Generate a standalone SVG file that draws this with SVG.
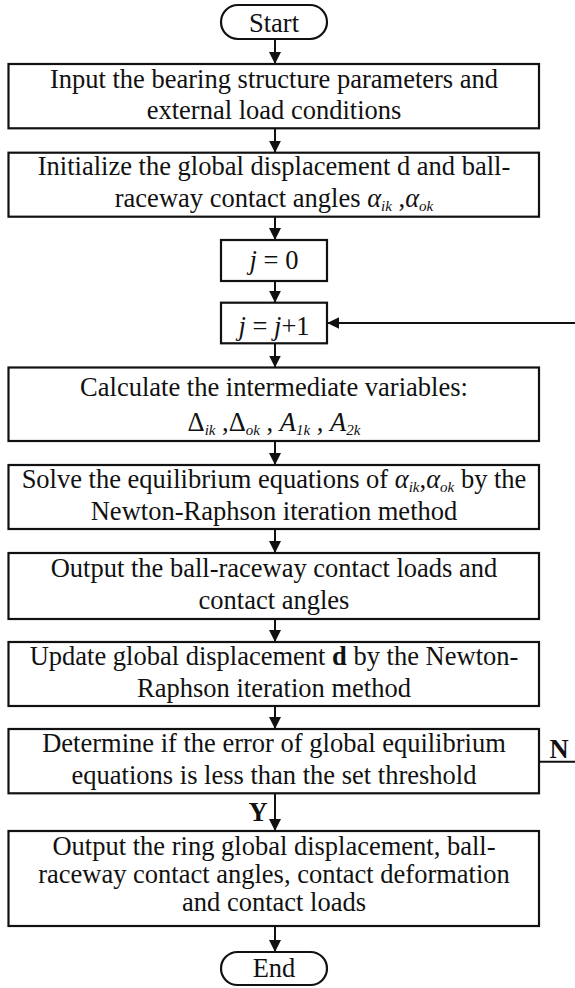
<svg xmlns="http://www.w3.org/2000/svg" width="575" height="988" viewBox="0 0 575 988">
<style>
.box{fill:#fff;stroke:#111;stroke-width:2.2}
.t{font-family:"Liberation Serif","Times New Roman",serif;font-size:26.5px;fill:#111;text-anchor:middle}
.i{font-style:italic}
.s{font-size:15px;font-style:italic}
.b{font-weight:bold}
.c{fill:none;stroke:#111;stroke-width:2}
</style>
<defs>
<marker id="ah" viewBox="0 0 12 12" refX="12" refY="6" markerWidth="12" markerHeight="12" markerUnits="userSpaceOnUse" orient="auto">
<path d="M0,0 L12,6 L0,12 z" fill="#111"/>
</marker>
</defs>
<rect width="575" height="988" fill="#fff"/>
<g id="connectors">
<path class="c" d="M275,39 V64" marker-end="url(#ah)"/>
<path class="c" d="M275,128.3 V152.7" marker-end="url(#ah)"/>
<path class="c" d="M275,216.7 V240" marker-end="url(#ah)"/>
<path class="c" d="M275,281 V302.7" marker-end="url(#ah)"/>
<path class="c" d="M275,343.3 V367.5" marker-end="url(#ah)"/>
<path class="c" d="M275,441 V465" marker-end="url(#ah)"/>
<path class="c" d="M275,529 V553" marker-end="url(#ah)"/>
<path class="c" d="M275,619 V642" marker-end="url(#ah)"/>
<path class="c" d="M275,706 V729" marker-end="url(#ah)"/>
<path class="c" d="M275,793.3 V831" marker-end="url(#ah)"/>
<path class="c" d="M275,926 V952" marker-end="url(#ah)"/>
<path class="c" d="M575,323 H327.3" marker-end="url(#ah)"/>
<path class="c" d="M539,761.7 H575"/>
<text class="t b" x="559" y="757.5">N</text>
<text class="t b" x="258" y="821">Y</text>
</g>
<g id="start">
<rect class="box" x="221" y="5" width="106" height="34" rx="17"/>
<text class="t" x="274" y="32">Start</text>
</g>
<g id="input">
<rect class="box" x="8.5" y="64" width="530.5" height="64.3"/>
<text class="t" x="274" y="87.5">Input the bearing structure parameters and</text>
<text class="t" x="274" y="119">external load conditions</text>
</g>
<g id="init">
<rect class="box" x="8.5" y="152.7" width="530.5" height="64"/>
<text class="t" x="274" y="174.5">Initialize the global displacement d and ball-</text>
<text class="t" x="274" y="206.5">raceway contact angles <tspan class="i">α</tspan><tspan class="s" dy="4">ik</tspan><tspan dy="-4"> ,</tspan><tspan class="i">α</tspan><tspan class="s" dy="4">ok</tspan></text>
</g>
<g id="j0">
<rect class="box" x="221" y="240" width="106" height="41"/>
<text class="t" x="274" y="268.5"><tspan class="i">j</tspan> = 0</text>
</g>
<g id="j1">
<rect class="box" x="221" y="302.7" width="106" height="40.6"/>
<text class="t" x="274" y="334.5"><tspan class="i">j</tspan> = <tspan class="i">j</tspan>+1</text>
</g>
<g id="calc">
<rect class="box" x="8.5" y="367.5" width="530.5" height="73.5"/>
<text class="t" x="274" y="396">Calculate the intermediate variables:</text>
<text class="t" x="274" y="431">Δ<tspan class="s" dy="4">ik</tspan><tspan dy="-4"> ,Δ</tspan><tspan class="s" dy="4">ok</tspan><tspan dy="-4"> , </tspan><tspan class="i">A</tspan><tspan class="s" dy="4">1k</tspan><tspan dy="-4"> , </tspan><tspan class="i">A</tspan><tspan class="s" dy="4">2k</tspan></text>
</g>
<g id="solve">
<rect class="box" x="8.5" y="465" width="530.5" height="64"/>
<text class="t" x="274" y="487.5">Solve the equilibrium equations of  <tspan class="i">α</tspan><tspan class="s" dy="4">ik</tspan><tspan dy="-4">,</tspan><tspan class="i">α</tspan><tspan class="s" dy="4">ok</tspan><tspan dy="-4"> by the</tspan></text>
<text class="t" x="274" y="519.5">Newton-Raphson iteration method</text>
</g>
<g id="output1">
<rect class="box" x="8.5" y="553" width="530.5" height="66"/>
<text class="t" x="274" y="576.5">Output the ball-raceway contact loads and</text>
<text class="t" x="274" y="608.5">contact angles</text>
</g>
<g id="update">
<rect class="box" x="8.5" y="642" width="530.5" height="64"/>
<text class="t" x="274" y="664.5">Update global displacement <tspan class="b">d</tspan> by the Newton-</text>
<text class="t" x="274" y="696.5">Raphson iteration method</text>
</g>
<g id="determine">
<rect class="box" x="8.5" y="729" width="530.5" height="64.3"/>
<text class="t" x="274" y="751.5">Determine if the error of global equilibrium</text>
<text class="t" x="274" y="783.5">equations is less than the set threshold</text>
</g>
<g id="output2">
<rect class="box" x="8.5" y="831" width="530.5" height="95"/>
<text class="t" x="274" y="855">Output the ring global displacement, ball-</text>
<text class="t" x="274" y="883">raceway contact angles, contact deformation</text>
<text class="t" x="274" y="911">and contact loads</text>
</g>
<g id="end">
<rect class="box" x="221" y="952" width="106" height="33" rx="16.5"/>
<text class="t" x="274" y="977">End</text>
</g>
</svg>
